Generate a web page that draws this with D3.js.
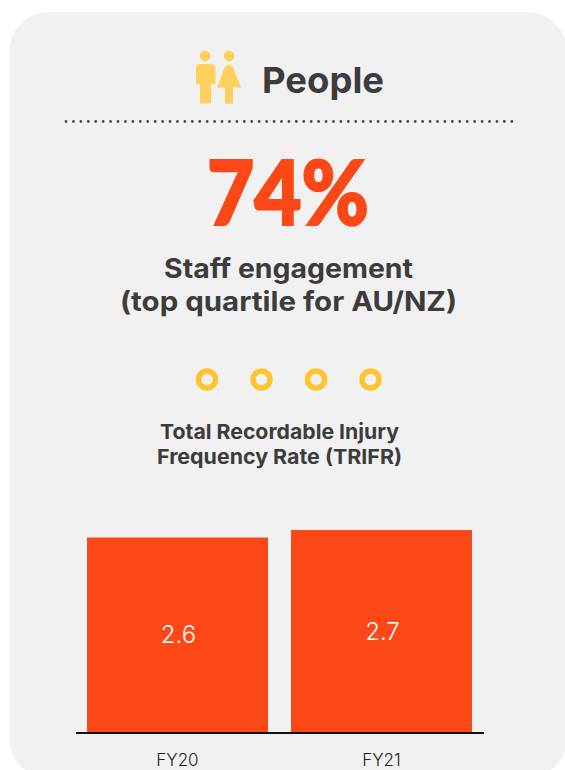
<!DOCTYPE html>
<html>
<head>
<meta charset="utf-8">
<script src="https://cdn.jsdelivr.net/npm/d3@7"></script>
<style>
  html, body { margin: 0; padding: 0; background: #fff; overflow: hidden; }
  svg { display: block; }
  text { font-family: Inter, Lato, sans-serif; text-anchor: middle; }
</style>
</head>
<body>
<script>
  var years = ['FY20', 'FY21'];
  var trifr = [2.6, 2.7];
  var labels = ['2.6', '2.7'];
  var rings = [0, 1, 2, 3];

  var global_width = 565, global_height = 770;

  var svg = d3.select('body').append('svg')
    .attr('width', global_width)
    .attr('height', global_height);

  // card
  svg.append('rect')
    .attr('x', 9).attr('y', 12)
    .attr('width', 558).attr('height', 766)
    .attr('rx', 40)
    .attr('fill', '#f1f1f1');

  // people icon
  var icon = svg.append('g').attr('fill', '#ffd05c');
  icon.append('circle').attr('cx', 205).attr('cy', 56).attr('r', 5.4);
  icon.append('circle').attr('cx', 229).attr('cy', 56).attr('r', 5.4);
  icon.append('path').attr('d', 'M200 64h11a4.5 4.5 0 0 1 4.5 4.5v15.5h-4.5v19.5h-11v-19.5h-4v-15.5a4.5 4.5 0 0 1 4-4.5z');
  icon.append('path').attr('d', 'M225 67q4-5 8 0l8 20.5h-8v16h-8v-16h-8z');

  // headings, widths pinned to the reference
  function heading(x, y, size, weight, fill, len, str) {
    return svg.append('text')
      .attr('x', x).attr('y', y)
      .attr('font-size', size).attr('font-weight', weight)
      .attr('fill', fill)
      .attr('textLength', len)
      .attr('lengthAdjust', 'spacingAndGlyphs')
      .text(str);
  }

  heading(323, 93, 36, 700, '#3c3c3c', 122, 'People');

  // dotted rule
  svg.append('line')
    .attr('x1', 66).attr('x2', 512)
    .attr('y1', 121.5).attr('y2', 121.5)
    .attr('stroke', '#4a4a4a')
    .attr('stroke-width', 2.8)
    .attr('stroke-linecap', 'round')
    .attr('stroke-dasharray', '0 7.43');

  // Lato tops out lighter than the reference face, so thicken it a little
  heading(288, 225, 90, 900, '#fc4716', 162, '74%')
    .style('font-family', 'Lato')
    .attr('stroke', '#fc4716')
    .attr('stroke-width', 2.2);

  heading(288.5, 278, 27, 700, '#3c3c3c', 249, 'Staff engagement');
  heading(288.5, 311, 27, 700, '#3c3c3c', 337, '(top quartile for AU/NZ)');

  // ring row
  var ringScale = d3.scaleLinear().domain([0, 3]).range([207, 370.5]);
  svg.append('g').selectAll('circle')
    .data(rings)
    .enter()
    .append('circle')
    .attr('cx', function(d){ return ringScale(d); })
    .attr('cy', 379.5)
    .attr('r', 8.5)
    .attr('fill', 'none')
    .attr('stroke', '#ffc32e')
    .attr('stroke-width', 5.4);

  heading(279.5, 439, 20.5, 700, '#3c3c3c', 239, 'Total Recordable Injury');
  heading(279.5, 464, 20.5, 700, '#3c3c3c', 245, 'Frequency Rate (TRIFR)');

  // bars
  var baseY = 733;
  var xScale = d3.scaleBand().domain(years).range([87, 472]).paddingInner(0.113);
  var yScale = d3.scaleLinear().domain([0, 2.7]).range([baseY, 530]);

  svg.append('g').selectAll('rect')
    .data(years)
    .enter()
    .append('rect')
    .attr('x', function(d){ return xScale(d); })
    .attr('y', function(d, i){ return yScale(trifr[i]); })
    .attr('width', xScale.bandwidth())
    .attr('height', function(d, i){ return baseY - yScale(trifr[i]); })
    .attr('fill', '#fc4716');

  svg.append('g').selectAll('text')
    .data(years)
    .enter()
    .append('text')
    .attr('x', function(d){ return xScale(d) + xScale.bandwidth() / 2 + 1; })
    .attr('y', function(d, i){ return (yScale(trifr[i]) + baseY) / 2 + 8; })
    .attr('font-size', 24).attr('font-weight', 300)
    .attr('fill', '#fff')
    .text(function(d, i){ return labels[i]; });

  // baseline and category labels
  var xAxis = d3.axisBottom(xScale).tickSize(0).tickPadding(21);
  var axisG = svg.append('g')
    .attr('transform', 'translate(0,' + baseY + ')')
    .call(xAxis);
  axisG.select('.domain').remove();
  axisG.selectAll('text')
    .attr('font-size', 17).attr('font-weight', 300)
    .attr('font-family', 'Inter')
    .attr('fill', '#222');
  axisG.append('line')
    .attr('x1', 76).attr('x2', 484)
    .attr('y1', 0).attr('y2', 0)
    .attr('stroke', '#111')
    .attr('stroke-width', 1.8);
</script>
</body>
</html>
